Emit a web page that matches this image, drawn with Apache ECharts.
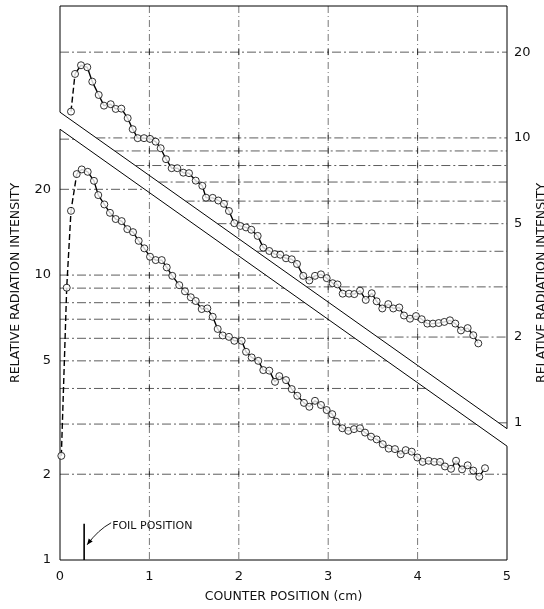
<!DOCTYPE html>
<html><head><meta charset="utf-8">
<script src="https://cdn.jsdelivr.net/npm/echarts@6/dist/echarts.min.js"></script>
<style>html,body{margin:0;padding:0;background:#fff}#c{width:544px;height:609px}</style>
</head><body><div id="c"></div>
<script>
// ---------- data ----------
const xTickValues = [0, 1, 2, 3, 4, 5];
const leftLabelValues = [1, 2, 5, 10, 20];
const rightLabelValues = [1, 2, 5, 10, 20];
const leftGridValues = [2, 3, 4, 5, 6, 7, 8, 9, 10, 20, 30];
const rightGridValues = [1, 2, 3, 4, 5, 6, 7, 8, 9, 10, 20];
const leftRange = [1, 88];
const rightRange = [0.33, 29.04];
const bandUpper = [[0, 37.3], [5, 2.89]];   // in left-axis units
const bandLower = [[0, 32.5], [5, 2.51]];   // in left-axis units
const foilX = 0.27;
const foilSpan = [1, 1.34];
const foilLabel = 'FOIL POSITION';

const upperX = [0.123,0.168,0.235,0.305,0.361,0.433,0.492,0.567,0.623,0.686,
  0.757,0.813,0.869,0.940,1.007,1.070,1.126,1.186,1.249,1.312,
  1.379,1.443,1.518,1.592,1.633,1.708,1.771,1.834,1.890,1.950,
  2.017,2.081,2.140,2.211,2.274,2.341,2.402,2.464,2.528,2.592,
  2.651,2.721,2.789,2.852,2.919,2.983,3.050,3.104,3.162,3.233,
  3.292,3.356,3.420,3.487,3.542,3.605,3.672,3.728,3.795,3.848,
  3.915,3.982,4.046,4.109,4.172,4.236,4.299,4.362,4.422,4.485,
  4.560,4.623,4.679];
const upperY = [12.37,16.77,17.99,17.70,15.76,14.15,12.98,13.13,12.64,12.67,
  11.73,10.73,9.98,9.98,9.92,9.70,9.20,8.42,7.83,7.83,
  7.55,7.52,7.08,6.79,6.17,6.16,6.03,5.87,5.54,5.02,
  4.91,4.85,4.76,4.53,4.12,4.01,3.91,3.89,3.78,3.75,
  3.61,3.28,3.16,3.28,3.32,3.22,3.09,3.06,2.84,2.84,
  2.83,2.91,2.70,2.85,2.67,2.52,2.61,2.52,2.54,2.38,
  2.32,2.37,2.31,2.23,2.23,2.24,2.26,2.29,2.23,2.11,
  2.15,2.03,1.90];
const upperDashEnd = 1;

const lowerX = [0.015,0.075,0.123,0.187,0.243,0.310,0.380,0.428,0.496,0.559,
  0.623,0.690,0.753,0.817,0.880,0.943,1.007,1.070,1.138,1.194,
  1.256,1.334,1.398,1.463,1.518,1.585,1.648,1.708,1.764,1.820,
  1.890,1.950,2.032,2.081,2.144,2.218,2.274,2.341,2.405,2.453,
  2.528,2.592,2.654,2.729,2.789,2.852,2.919,2.983,3.045,3.087,
  3.158,3.225,3.289,3.356,3.412,3.479,3.542,3.610,3.677,3.747,
  3.811,3.867,3.934,3.997,4.057,4.124,4.187,4.251,4.306,4.374,
  4.430,4.497,4.560,4.623,4.690,4.754];
const lowerY = [2.32,9.03,16.81,22.62,23.49,23.04,21.42,19.09,17.70,16.54,
  15.73,15.47,14.50,14.15,13.19,12.41,11.60,11.29,11.29,10.64,
  9.94,9.22,8.77,8.36,8.11,7.60,7.64,7.14,6.47,6.14,
  6.07,5.88,5.88,5.38,5.14,5.00,4.64,4.62,4.22,4.42,
  4.28,3.98,3.77,3.56,3.45,3.62,3.50,3.36,3.25,3.06,
  2.90,2.84,2.88,2.90,2.80,2.71,2.65,2.55,2.46,2.45,
  2.35,2.43,2.40,2.29,2.21,2.23,2.21,2.21,2.13,2.09,
  2.23,2.08,2.15,2.06,1.96,2.10];
const lowerDashEnd = 3;

const xName = 'COUNTER POSITION (cm)';
const yName = 'RELATIVE RADIATION INTENSITY';

// ---------- chart ----------
const L = Math.log10;
const FONT = 'DejaVu Sans';
const INK = '#111';
const pts = (xs, ys, a, b) => xs.slice(a, b).map((x, i) => [x, L(ys[a + i])]);
const fmt = v => String(Math.round(Math.pow(10, v)));

const chart = echarts.init(document.getElementById('c'));

const lineSolid = { color: '#000', width: 1.4 };
const lineDash = { color: '#000', width: 1.4, type: [6, 3] };
const dot = { color: '#fff', borderColor: '#000', borderWidth: 1 };

const option = {
  animation: false,
  backgroundColor: '#fff',
  grid: { left: 60, right: 37, top: 6, bottom: 49, containLabel: false, outerBoundsMode: 'none' },
  xAxis: {
    type: 'value', min: 0, max: 5, interval: 1,
    axisLine: { show: false }, axisTick: { show: false }, splitLine: { show: false },
    axisLabel: { color: INK, fontFamily: FONT, fontSize: 13, margin: 10 },
    name: xName, nameLocation: 'middle', nameGap: 30, nameMoveOverlap: false,
    nameTextStyle: { color: INK, fontFamily: FONT, fontSize: 12.5 }
  },
  yAxis: [{
    type: 'value', position: 'left', min: L(leftRange[0]), max: L(leftRange[1]),
    axisLine: { show: false }, axisTick: { show: false }, splitLine: { show: false },
    axisLabel: { customValues: leftLabelValues.map(L), formatter: fmt, color: INK, fontFamily: FONT, fontSize: 13, margin: 9 },
    name: yName, nameLocation: 'middle', nameRotate: 90, nameGap: 38, nameMoveOverlap: false,
    nameTextStyle: { color: INK, fontFamily: FONT, fontSize: 12.5 }
  }, {
    type: 'value', position: 'right', min: L(rightRange[0]), max: L(rightRange[1]),
    axisLine: { show: false }, axisTick: { show: false }, splitLine: { show: false },
    axisLabel: { customValues: rightLabelValues.map(L), formatter: fmt, color: INK, fontFamily: FONT, fontSize: 13, margin: 7 },
    name: yName, nameLocation: 'middle', nameRotate: 90, nameGap: 28, nameMoveOverlap: false,
    nameTextStyle: { color: INK, fontFamily: FONT, fontSize: 12.5 }
  }],
  series: [
    { id: 'lowDash', type: 'line', yAxisIndex: 0, data: pts(lowerX, lowerY, 0, lowerDashEnd + 1), symbol: 'none', lineStyle: lineDash, z: 3, silent: true },
    { id: 'lowSolid', type: 'line', yAxisIndex: 0, data: pts(lowerX, lowerY, lowerDashEnd, lowerX.length), symbol: 'none', lineStyle: lineSolid, z: 3, silent: true },
    { id: 'lowPts', type: 'scatter', yAxisIndex: 0, data: pts(lowerX, lowerY, 0, lowerX.length), symbol: 'circle', symbolSize: 7, itemStyle: dot, z: 4, silent: true },
    { id: 'upDash', type: 'line', yAxisIndex: 1, data: pts(upperX, upperY, 0, upperDashEnd + 1), symbol: 'none', lineStyle: lineDash, z: 3, silent: true },
    { id: 'upSolid', type: 'line', yAxisIndex: 1, data: pts(upperX, upperY, upperDashEnd, upperX.length), symbol: 'none', lineStyle: lineSolid, z: 3, silent: true },
    { id: 'upPts', type: 'scatter', yAxisIndex: 1, data: pts(upperX, upperY, 0, upperX.length), symbol: 'circle', symbolSize: 7, itemStyle: dot, z: 4, silent: true }
  ]
};
chart.setOption(option);

// band in pixels via the library's own scale
const toPx = p => chart.convertToPixel({ xAxisIndex: 0, yAxisIndex: 0 }, [p[0], L(p[1])]);
const upPx = bandUpper.map(toPx);
const loPx = bandLower.map(toPx);
const xAt = (seg, y) => seg[0][0] + (y - seg[0][1]) * (seg[1][0] - seg[0][0]) / (seg[1][1] - seg[0][1]);

const gridStyle = { stroke: '#333', lineWidth: 0.8, lineDash: [9, 3, 2, 3] };
const vStyle = { stroke: '#555', lineWidth: 0.8, lineDash: [7, 3, 1, 3] };
const solid = { stroke: '#000', lineWidth: 1 };

function addSeg(children, a, b, style) {
  children.push({ type: 'line', shape: { x1: a[0], y1: a[1], x2: b[0], y2: b[1] }, style: style });
}
function addCrosses(children, api, y, xs, xe) {
  xTickValues.forEach(x => {
    if (x <= 0 || x >= 5) return;
    const px = api.coord([x, 0])[0];
    if (px >= xs && px <= xe) addSeg(children, [px, y - 3], [px, y + 3], { stroke: '#222', lineWidth: 0.8 });
  });
}

function renderLeft(params, api) {
  const P = (x, v) => api.coord([x, L(v)]);
  const x0 = P(0, leftRange[0])[0], yBot = P(0, leftRange[0])[1];
  const x5 = P(5, leftRange[1])[0], yTop = P(5, leftRange[1])[1];
  const ch = [];
  xTickValues.forEach(x => {
    if (x <= 0 || x >= 5) return;
    const px = P(x, 1)[0];
    addSeg(ch, [px, yTop], [px, yBot], vStyle);
  });
  leftGridValues.forEach(v => {
    const y = P(0, v)[1];
    if (y < loPx[0][1]) return;
    let xe = x5;
    if (y < loPx[1][1]) xe = xAt(loPx, y);
    addSeg(ch, [x0, y], [xe, y], gridStyle);
    addCrosses(ch, api, y, x0, xe);
  });
  // frame
  addSeg(ch, [x0, yTop], [x5, yTop], solid);
  addSeg(ch, [x0, yBot], [x5, yBot], solid);
  addSeg(ch, [x0, yBot], [x0, loPx[0][1]], solid);
  addSeg(ch, [x0, upPx[0][1]], [x0, yTop], solid);
  addSeg(ch, [x5, yTop], [x5, upPx[1][1]], solid);
  addSeg(ch, [x5, loPx[1][1]], [x5, yBot], solid);
  // band
  addSeg(ch, upPx[0], upPx[1], solid);
  addSeg(ch, loPx[0], loPx[1], solid);
  // foil marker
  const fb = P(foilX, foilSpan[0]), ft = P(foilX, foilSpan[1]);
  addSeg(ch, fb, ft, { stroke: '#000', lineWidth: 1.6 });
  const tx = ft[0] + 28, ty = ft[1] + 2;
  ch.push({ type: 'text', x: tx, y: ty, style: { text: foilLabel, fill: INK, fontFamily: FONT, fontSize: 11, align: 'left', verticalAlign: 'middle' } });
  const ex = ft[0] + 3, ey = ft[1] + 21, cx = ft[0] + 14, cy = ft[1] + 6;
  ch.push({ type: 'bezierCurve', shape: { x1: tx - 1, y1: ty - 3, cpx1: cx, cpy1: cy, x2: ex, y2: ey }, style: { stroke: '#000', lineWidth: 0.9, fill: null } });
  const dx = ex - cx, dy = ey - cy, d = Math.hypot(dx, dy), ux = dx / d, uy = dy / d;
  ch.push({ type: 'polygon', shape: { points: [[ex, ey], [ex - 6 * ux - 2.5 * uy, ey - 6 * uy + 2.5 * ux], [ex - 6 * ux + 2.5 * uy, ey - 6 * uy - 2.5 * ux]] }, style: { fill: '#000' } });
  return { type: 'group', children: ch };
}

function renderRight(params, api) {
  const P = (x, v) => api.coord([x, L(v)]);
  const x0 = P(0, 1)[0], x5 = P(5, 1)[0];
  const ch = [];
  rightGridValues.forEach(v => {
    const y = P(0, v)[1];
    if (y > upPx[1][1]) return;
    let xs = x0;
    if (y > upPx[0][1]) xs = xAt(upPx, y);
    addSeg(ch, [xs, y], [x5, y], gridStyle);
    addCrosses(ch, api, y, xs, x5);
  });
  return { type: 'group', children: ch };
}

chart.setOption({
  series: [
    { id: 'frameLeft', type: 'custom', yAxisIndex: 0, data: [[0, 0]], renderItem: renderLeft, z: 1, silent: true },
    { id: 'gridRight', type: 'custom', yAxisIndex: 1, data: [[0, 0]], renderItem: renderRight, z: 1, silent: true }
  ]
});
</script>
</body></html>
